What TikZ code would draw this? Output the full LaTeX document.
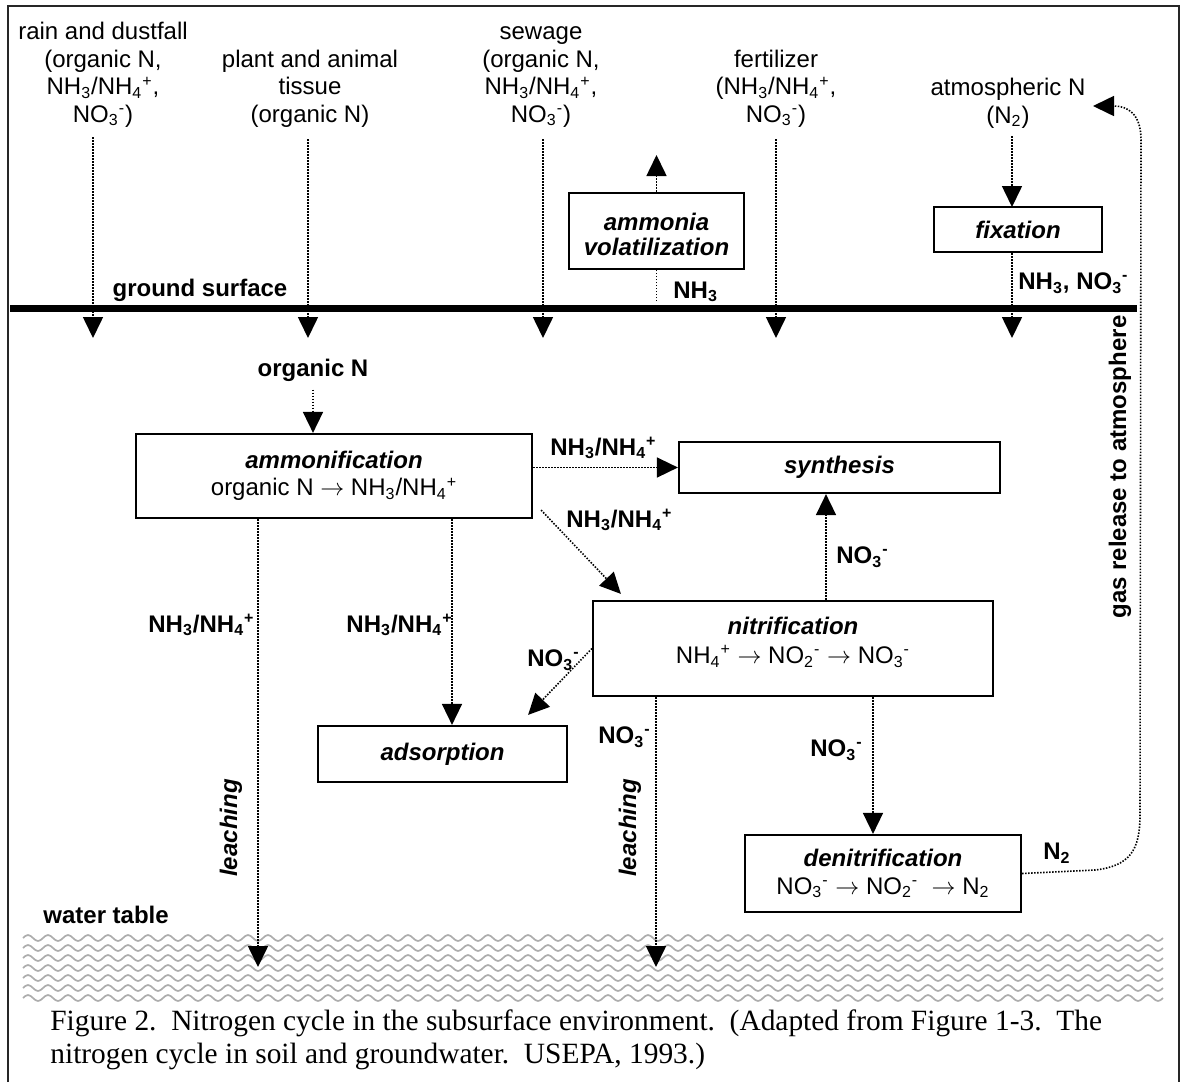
\documentclass[tikz,border=0pt]{standalone}
\usepackage{fontspec}
\setmainfont{Liberation Sans}
\newfontfamily\capfont{Liberation Serif}
\usetikzlibrary{arrows.meta}
\newcommand\lo[1]{\textsubscript{#1}}
\newcommand\hi[1]{\textsuperscript{#1}}
\begin{document}
\begin{tikzpicture}[x=0.5pt,y=-0.5pt,
  every node/.style={inner sep=0pt, font=\fontsize{12}{13.75}\selectfont},
  src/.style={align=center, anchor=south},
  blbl/.style={font=\fontsize{12}{13.75}\selectfont\bfseries},
  procbox/.style={draw, line width=1.1pt},
  ptitle/.style={font=\fontsize{12}{13.75}\selectfont\bfseries\itshape},
  flow/.style={line width=0.8pt, dash pattern=on 0.75pt off 0.75pt, -{Triangle[width=10pt,length=10.5pt]}},
  flowplain/.style={line width=0.8pt, dash pattern=on 0.75pt off 0.75pt},
  wave/.style={draw=black!32, line width=0.85pt},
]
\useasboundingbox (0,0) rectangle (1183,1082);
% frame
\draw[line width=1pt, black!85] (8,1082) -- (8,6) -- (1179,6) -- (1179,1082);

% water table hatch
\foreach \r in {0,...,6}{
  \draw[wave] (23,938+10*\r) \foreach \i in {1,...,57}{ sin ++(5,-3) cos ++(5,3) sin ++(5,3) cos ++(5,-3) };
}

% ground surface
\draw[line width=3.5pt] (10,308.5) -- (1137,308.5);
\node[blbl] (gslbl) at (200,290) {ground surface};
\node[blbl, anchor=west] (wtlbl) at (43,915) {water table};

% sources
\node[src] (rain) at (103,131) {rain and dustfall\\(organic N,\\NH\lo{3}/NH\lo{4}\hi{+},\\NO\lo{3}\hi{-})\strut};
\node[src] (plant) at (310,131) {plant and animal\\tissue\\(organic N)\strut};
\node[src] (sewage) at (541,131) {sewage\\(organic N,\\NH\lo{3}/NH\lo{4}\hi{+},\\NO\lo{3}\hi{-})\strut};
\node[src] (fert) at (776,131) {fertilizer\\(NH\lo{3}/NH\lo{4}\hi{+},\\NO\lo{3}\hi{-})\strut};
\node[src] (atm) at (1008,132) {atmospheric N\\(N\lo{2})\strut};

\coordinate (gRain) at (93,338);
\coordinate (gPlant) at (308,338);
\coordinate (gSew) at (543,338);
\coordinate (gFert) at (776,338);
\coordinate (gFix) at (1012,338);
\coordinate (fixIn) at (1012,207);
\coordinate (atmIn) at (1093,106);

\draw[flow, shorten <=3pt] (rain.south -| gRain) -- (gRain);
\draw[flow, shorten <=4pt] (plant.south -| gPlant) -- (gPlant);
\draw[flow, shorten <=4pt] (sewage.south -| gSew) -- (gSew);
\draw[flow, shorten <=4pt] (fert.south -| gFert) -- (gFert);

% fixation
\node[procbox, ptitle, minimum width=84pt, minimum height=22.5pt] (fix) at (1018,229.5) {fixation};
\draw[flow, shorten <=2pt] (atm.south -| fixIn) -- (fixIn);
\draw[flow] (fix.south -| fixIn) -- (gFix);
\node[blbl, anchor=west] (fixlbl) at (1018,283) {NH\lo{3}, NO\lo{3}\hi{-}};

% ammonia volatilization
\node[procbox, minimum width=87.5pt, minimum height=38pt] (vol) at (656.5,231) {};
\node[align=center, font=\fontsize{12}{12.5}\selectfont\bfseries\itshape] (voltxt) at (656.5,234) {ammonia\\volatilization};
\coordinate (volBase) at (656.5,301);
\coordinate (volOut) at (656.5,155);
\draw[flowplain] (volBase) -- (vol.south);
\draw[flow] (vol.north) -- (volOut);
\node[blbl, anchor=west] (nh3lbl) at (673,292) {NH\lo{3}};

% organic N
\node[blbl] (orgN) at (313,370) {organic N};

% ammonification
\node[procbox, align=center, minimum width=198pt, minimum height=42pt] (amm) at (334,476)
  {{\bfseries\itshape ammonification}\\organic N $\rightarrow$ NH\lo{3}/NH\lo{4}\hi{+}};
\draw[flow, shorten <=4pt] (orgN.south) -- (amm.north -| orgN.south);

% synthesis
\node[procbox, ptitle, minimum width=160.5pt, minimum height=25.5pt] (syn) at (839.5,467.5) {synthesis};

% nitrification
\node[procbox, minimum width=200pt, minimum height=47.5pt] (nit) at (793,648.5) {};
\node[align=center] (nittxt) at (793,642) {{\bfseries\itshape nitrification}\\[1pt]NH\lo{4}\hi{+} $\rightarrow$ NO\lo{2}\hi{-} $\rightarrow$ NO\lo{3}\hi{-}};

% adsorption
\node[procbox, ptitle, minimum width=124.5pt, minimum height=28pt] (ads) at (442.5,754) {adsorption};

% denitrification
\node[procbox, align=center, minimum width=138pt, minimum height=38.5pt] (den) at (883,873.5)
  {{\bfseries\itshape denitrification}\\NO\lo{3}\hi{-} $\rightarrow$ NO\lo{2}\hi{-}\ \ $\rightarrow$ N\lo{2}};

% coordinates for connectors
\coordinate (leachL) at (258,967);
\coordinate (leachR) at (656,967);
\path ([xshift=4.75pt]ads.north) coordinate (adsIn);
\path ([xshift=16.5pt]nit.north) coordinate (nitUp);
\path ([xshift=-5pt]den.north) coordinate (denIn);

% connectors
\draw[flow] (syn.west -| amm.east) -- (syn.west);
\draw[flow] ([xshift=4pt,yshift=4.5pt]amm.south east) -- ([xshift=14.5pt,yshift=3pt]nit.north west);
\draw[flow] (amm.south -| adsIn) -- (adsIn);
\draw[flow] (amm.south -| leachL) -- (leachL);
\draw[flow] (nitUp) -- (syn.south -| nitUp);
\draw[flow] (nit.west) -- ([xshift=-20pt,yshift=5pt]ads.north east);
\draw[flow] (nit.south -| leachR) -- (leachR);
\draw[flow] (nit.south -| denIn) -- (denIn);
\draw[flow] (den.east) -- (1095,870) .. controls (1130,866) and (1140,850) .. (1140,815)
   -- (1141,140) .. controls (1141,114) and (1128,106) .. (atmIn);

% flow labels
\node[blbl, anchor=west] (l1) at (550,448) {NH\lo{3}/NH\lo{4}\hi{+}};
\node[blbl, anchor=west] (l2) at (566,520) {NH\lo{3}/NH\lo{4}\hi{+}};
\node[blbl, anchor=east] (l3) at (453,625) {NH\lo{3}/NH\lo{4}\hi{+}};
\node[blbl, anchor=west] (l4) at (148,625) {NH\lo{3}/NH\lo{4}\hi{+}};
\node[blbl, anchor=west] (l5) at (836,557) {NO\lo{3}\hi{-}};
\node[blbl, anchor=west] (l6) at (527,660) {NO\lo{3}\hi{-}};
\node[blbl, anchor=west] (l7) at (598,737) {NO\lo{3}\hi{-}};
\node[blbl, anchor=west] (l8) at (810,750) {NO\lo{3}\hi{-}};
\node[blbl, anchor=west] (l9) at (1043,853) {N\lo{2}};
\node[ptitle, rotate=90] (leach1) at (231,828) {leaching};
\node[ptitle, rotate=90] (leach2) at (630,828) {leaching};
\node[blbl, rotate=90] (gas) at (1120,467) {gas release to atmosphere};

% caption
\node[anchor=north west, align=left, font=\capfont\fontsize{14.7}{16.9}\selectfont] (cap) at (50,1009)
  {Figure 2.\ \ Nitrogen cycle in the subsurface environment.\ \ (Adapted from Figure 1-3.\ \ The\\
   nitrogen cycle in soil and groundwater.\ \ USEPA, 1993.)};
\end{tikzpicture}
\end{document}
